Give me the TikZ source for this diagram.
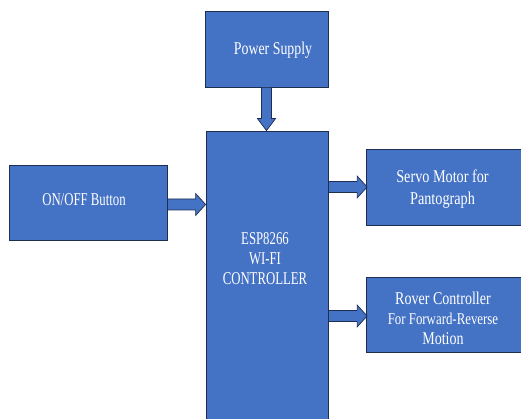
\documentclass[tikz,border=0pt]{standalone}
\usepackage{fontspec}
\setmainfont{Liberation Serif}
\usetikzlibrary{calc}
\definecolor{boxblue}{HTML}{4472C4}
\definecolor{edgeblue}{HTML}{1F2D50}
\tikzset{
  blk/.style={draw=edgeblue, fill=boxblue, line width=0.8pt, inner sep=0pt, minimum width=#1},
  lbl/.style={text=white, align=center, font=\fontsize{18}{20}\selectfont, inner sep=0pt, transform shape, xscale=#1},
  lbl/.default=0.756,
  barrow/.style={draw=edgeblue, fill=boxblue, line width=0.7pt, line join=miter}
}
\newcommand\harrowto[2]{%
  \draw[barrow] ($(#1)+(0,5.5)$) -- ($(#2)+(-10,5.5)$) -- ($(#2)+(-10,11)$) -- (#2)
    -- ($(#2)+(-10,-11)$) -- ($(#2)+(-10,-5.5)$) -- ($(#1)+(0,-5.5)$) -- cycle;}
\newcommand\varrowto[2]{%
  \draw[barrow] ($(#1)+(-5,0)$) -- ($(#2)+(-5,12)$) -- ($(#2)+(-9,12)$) -- (#2)
    -- ($(#2)+(9,12)$) -- ($(#2)+(5,12)$) -- ($(#1)+(5,0)$) -- cycle;}
\begin{document}
\begin{tikzpicture}[x=1pt,y=1pt]
\useasboundingbox (0,0) rectangle (521,419);
\begin{scope}
\clip (0,0) rectangle (521,419);
\node[blk=123pt, minimum height=76pt] (ps) at (266.5,370) {};
\node[blk=122pt, minimum height=291pt] (esp) at (267,142.5) {};
\node[blk=158pt, minimum height=75pt] (onoff) at (88,216.5) {};
\node[blk=158pt, minimum height=76pt] (servo) at (445,232) {};
\node[blk=158pt, minimum height=75pt] (rover) at (445,104.5) {};

\node[lbl=0.77] (pst) at ($(ps.center)+(6.5,-1)$) {Power Supply};
\node[lbl=0.71] (espt) at (265,160) {ESP8266\\WI-FI\\CONTROLLER};
\node[lbl=0.71] (onofft) at ($(onoff.center)+(-4,2.5)$) {ON/OFF Button};
\node[lbl=0.79, font=\fontsize{18}{22}\selectfont] (servot) at ($(servo.center)+(-2.5,-2)$) {Servo Motor for\\Pantograph};
\node[lbl=0.78] (rovert) at ($(rover.center)+(-2,-3.5)$) {Rover Controller\\{\fontsize{16.5}{20}\selectfont For Forward-Reverse}\\Motion};

\coordinate (pa) at (ps.south);
\coordinate (pb) at (ps.south |- esp.north);
\varrowto{pa}{pb}
\coordinate (oa) at ($(onoff.east)+(0,-2)$);
\coordinate (ob) at (esp.west |- oa);
\harrowto{oa}{ob}
\coordinate (sa) at (esp.east |- servo.west);
\coordinate (sb) at ($(servo.west)+(1.5,0)$);
\harrowto{sa}{sb}
\coordinate (ra) at ($(esp.east |- rover.west)+(0,-1.5)$);
\coordinate (rb) at ($(rover.west)+(1.5,-1.5)$);
\harrowto{ra}{rb}
\end{scope}
\end{tikzpicture}
\end{document}
